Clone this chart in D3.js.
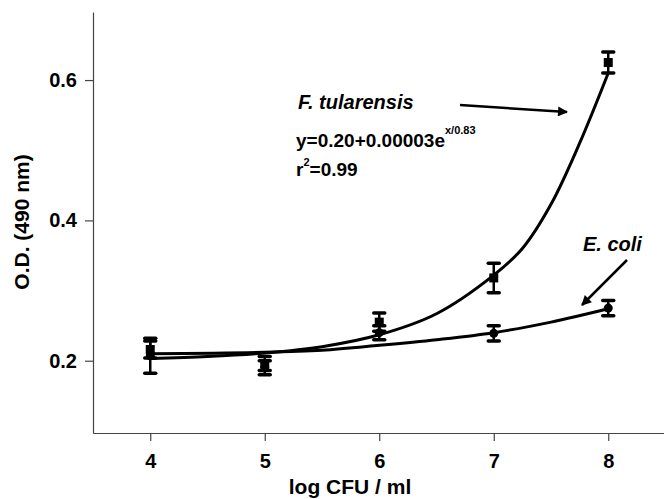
<!DOCTYPE html>
<html>
<head>
<meta charset="utf-8">
<script src="https://cdn.jsdelivr.net/npm/d3@7"></script>
<style>
  body { margin: 0; background: #fff; }
  text { font-family: Arial, "Liberation Sans", sans-serif; font-weight: bold; }
</style>
</head>
<body>
<svg id="chart" width="664" height="499"></svg>
<script>
// data
var xTicks = [4, 5, 6, 7, 8];
var yTicks = [0.2, 0.4, 0.6];

var ftX = [4, 5, 6, 7, 8];
var ftMean = [0.216, 0.196, 0.255, 0.318, 0.625];
var ftErr = [0.012, 0.01, 0.013, 0.021, 0.015];

var ecX = [4, 5, 6, 7, 8];
var ecMean = [0.207, 0.19, 0.24, 0.239, 0.275];
var ecErr = [0.025, 0.01, 0.01, 0.011, 0.011];

// fitted curves, sampled from the drawn lines
var ftFitX = [4, 4.5, 5, 5.5, 6, 6.5, 7, 7.25, 7.5, 7.75, 8];
var ftFitY = [0.203, 0.206, 0.211, 0.22, 0.237, 0.267, 0.322, 0.36, 0.423, 0.51, 0.61];
var ecFitX = [4, 5, 5.5, 6, 6.5, 7, 7.5, 8];
var ecFitY = [0.21, 0.212, 0.215, 0.222, 0.23, 0.24, 0.255, 0.274];

var svg = d3.select("#chart");

var x = d3.scaleLinear().domain([3.5, 8.5]).range([93, 665.5]);
var y = d3.scaleLinear().domain([0.097, 0.697]).range([433, 12]);

// axes
var xAxis = d3.axisBottom(x).tickValues(xTicks).tickSize(8).tickSizeOuter(0).tickPadding(13).tickFormat(d3.format("d"));
var yAxis = d3.axisLeft(y).tickValues(yTicks).tickSize(8).tickSizeOuter(0).tickPadding(8).tickFormat(d3.format(".1f"));

var gx = svg.append("g").attr("transform", "translate(0,433)").call(xAxis);
var gy = svg.append("g").attr("transform", "translate(93,0)").call(yAxis);
[gx, gy].forEach(function (g) {
  g.select(".domain").attr("stroke", "#444").attr("stroke-width", 1.2);
  g.selectAll(".tick line").attr("stroke", "#444").attr("stroke-width", 1.2);
  g.selectAll(".tick text").attr("fill", "#000").style("font-size", "20px").style("font-family", "Arial, 'Liberation Sans', sans-serif").style("font-weight", "bold");
});

svg.append("text")
  .attr("x", 350).attr("y", 494)
  .attr("text-anchor", "middle")
  .style("font-size", "21px")
  .text("log CFU / ml");

svg.append("text")
  .attr("transform", "translate(29,222) rotate(-90)")
  .attr("text-anchor", "middle")
  .style("font-size", "21px")
  .text("O.D. (490 nm)");

// fit lines
var line = d3.line().x(function (d) { return x(d[0]); }).y(function (d) { return y(d[1]); }).curve(d3.curveCatmullRom);

svg.append("path")
  .datum(d3.zip(ftFitX, ftFitY))
  .attr("d", line)
  .attr("fill", "none").attr("stroke", "#000").attr("stroke-width", 3);

svg.append("path")
  .datum(d3.zip(ecFitX, ecFitY))
  .attr("d", line)
  .attr("fill", "none").attr("stroke", "#000").attr("stroke-width", 3);

// error bars + markers
function drawSeries(xs, means, errs, shape) {
  var pts = xs.map(function (v, i) { return { x: v, m: means[i], e: errs[i] }; });
  var g = svg.append("g");
  g.selectAll("line.bar").data(pts).join("line")
    .attr("x1", function (d) { return x(d.x); }).attr("x2", function (d) { return x(d.x); })
    .attr("y1", function (d) { return y(d.m + d.e); }).attr("y2", function (d) { return y(d.m - d.e); })
    .attr("stroke", "#000").attr("stroke-width", 2.5);
  [1, -1].forEach(function (s) {
    g.selectAll("line.cap" + s).data(pts).join("line")
      .attr("x1", function (d) { return x(d.x) - 5.5; }).attr("x2", function (d) { return x(d.x) + 5.5; })
      .attr("y1", function (d) { return y(d.m + s * d.e); }).attr("y2", function (d) { return y(d.m + s * d.e); })
      .attr("stroke", "#000").attr("stroke-width", 3.5).attr("stroke-linecap", "round");
  });
  if (shape === "square") {
    g.selectAll("rect").data(pts).join("rect")
      .attr("x", function (d) { return x(d.x) - 4.5; }).attr("y", function (d) { return y(d.m) - 4.5; })
      .attr("width", 9).attr("height", 9).attr("fill", "#000");
  } else {
    g.selectAll("circle").data(pts).join("circle")
      .attr("cx", function (d) { return x(d.x); }).attr("cy", function (d) { return y(d.m); })
      .attr("r", 4.5).attr("fill", "#000");
  }
}
drawSeries(ecX, ecMean, ecErr, "circle");
drawSeries(ftX, ftMean, ftErr, "square");

// annotations
svg.append("defs").append("marker")
  .attr("id", "arrow").attr("viewBox", "0 0 10 10")
  .attr("refX", 9).attr("refY", 5)
  .attr("markerWidth", 5).attr("markerHeight", 4)
  .attr("orient", "auto")
  .append("path").attr("d", "M0,0L10,5L0,10Z").attr("fill", "#000");

svg.append("line")
  .attr("x1", 460).attr("y1", 105).attr("x2", 567).attr("y2", 112)
  .attr("stroke", "#000").attr("stroke-width", 2.5).attr("marker-end", "url(#arrow)");

svg.append("line")
  .attr("x1", 627).attr("y1", 260).attr("x2", 582).attr("y2", 305)
  .attr("stroke", "#000").attr("stroke-width", 2.5).attr("marker-end", "url(#arrow)");

svg.append("text")
  .attr("x", 298).attr("y", 109)
  .style("font-size", "20px").style("font-style", "italic")
  .text("F. tularensis");

var eq = svg.append("text").attr("x", 296).attr("y", 147).style("font-size", "19px");
eq.append("tspan").text("y=0.20+0.00003e");
eq.append("tspan").attr("dy", -13).style("font-size", "11px").text("x/0.83");

var r2 = svg.append("text").attr("x", 296).attr("y", 176).style("font-size", "19px");
r2.append("tspan").text("r");
r2.append("tspan").attr("dy", -10).style("font-size", "11px").text("2");
r2.append("tspan").attr("dy", 10).text("=0.99");

svg.append("text")
  .attr("x", 583).attr("y", 251)
  .style("font-size", "20px").style("font-style", "italic")
  .text("E. coli");
</script>
</body>
</html>
